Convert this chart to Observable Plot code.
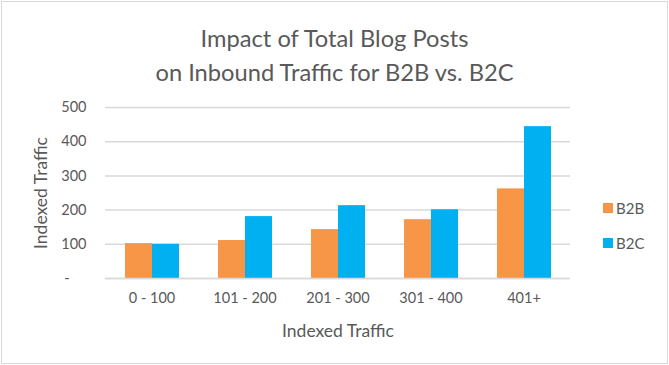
<!DOCTYPE html>
<html>
<head>
<meta charset="utf-8">
<script src="https://cdn.jsdelivr.net/npm/d3@7"></script>
<script src="https://cdn.jsdelivr.net/npm/@observablehq/plot@0.6"></script>
<style>
  html, body { margin: 0; padding: 0; background: #fff; }
  #chart { position: relative; width: 669px; height: 365px; overflow: hidden; font-family: Lato, sans-serif; color: #595959; }
  #border { position: absolute; left: 1px; top: 1px; right: 1px; bottom: 1px; border: 1.5px solid #d9d9d9; box-sizing: border-box; pointer-events: none; }
  #title { position: absolute; left: 0; top: 21px; width: 669px; text-align: center; font-size: 23.7px; line-height: 34px; }
  #legend { position: absolute; left: 603px; top: 190px; font-size: 15px; }
  .item { display: flex; align-items: center; height: 35px; }
  .sw { width: 10px; height: 10px; margin-right: 3px; }
  #plot { position: absolute; left: 0; top: 0; }
</style>
</head>
<body>
<div id="chart">
  <div id="plot"></div>
  <div id="title">Impact of Total Blog Posts<br>on Inbound Traffic for B2B vs. B2C</div>
  <div id="legend"></div>
  <div id="border"></div>
</div>
<script>
const categories = ["0 - 100", "101 - 200", "201 - 300", "301 - 400", "401+"];
const series = ["B2B", "B2C"];
const b2b = [102, 111, 143, 172, 262];
const b2c = [100, 181, 213, 201, 444];
const yTicks = [0, 100, 200, 300, 400, 500];
const colors = ["#F79646", "#00B0F0"];
const axisTitle = "Indexed Traffic";

const rows = [];
categories.forEach((c, i) => {
  rows.push({category: c, series: "B2B", value: b2b[i]});
  rows.push({category: c, series: "B2C", value: b2c[i]});
});

const chart = Plot.plot({
  width: 669,
  height: 365,
  marginTop: 107,
  marginBottom: 87,
  marginLeft: 105,
  marginRight: 99,
  style: {fontFamily: "Lato, sans-serif", color: "#595959", background: "transparent"},
  fx: {domain: categories, padding: 0, label: null},
  x: {domain: series, paddingInner: 0, paddingOuter: 0.72, axis: null},
  y: {domain: [0, 500]},
  color: {domain: series, range: colors},
  marks: [
    Plot.gridY(yTicks, {stroke: "#d9d9d9", strokeOpacity: 1, strokeWidth: 1.5}),
    Plot.axisY(yTicks, {
      tickSize: 0, tickPadding: 19, fontSize: 14.5,
      tickFormat: d => d === 0 ? "-\u2007\u2007" : String(d),
      label: null
    }),
    Plot.axisY({
      ticks: [], tickSize: 0, fontSize: 17.5,
      label: axisTitle, labelAnchor: "center", labelArrow: "none", labelOffset: 71
    }),
    Plot.axisFx({
      anchor: "bottom", tickSize: 0, tickPadding: 14, fontSize: 14.5, label: null
    }),
    Plot.axisFx({
      anchor: "bottom", ticks: [], tickSize: 0, fontSize: 17.5,
      label: axisTitle, labelAnchor: "center", labelArrow: "none", labelOffset: 58
    }),
    Plot.barY(rows, {fx: "category", x: "series", y: "value", fill: "series"}),
    Plot.ruleY([0], {stroke: "#d9d9d9", strokeWidth: 1.5})
  ]
});
document.getElementById("plot").appendChild(chart);

const legend = document.getElementById("legend");
series.forEach((s, i) => {
  const item = document.createElement("div");
  item.className = "item";
  const sw = document.createElement("div");
  sw.className = "sw";
  sw.style.background = colors[i];
  const t = document.createElement("span");
  t.textContent = s;
  item.appendChild(sw);
  item.appendChild(t);
  legend.appendChild(item);
});
</script>
</body>
</html>
